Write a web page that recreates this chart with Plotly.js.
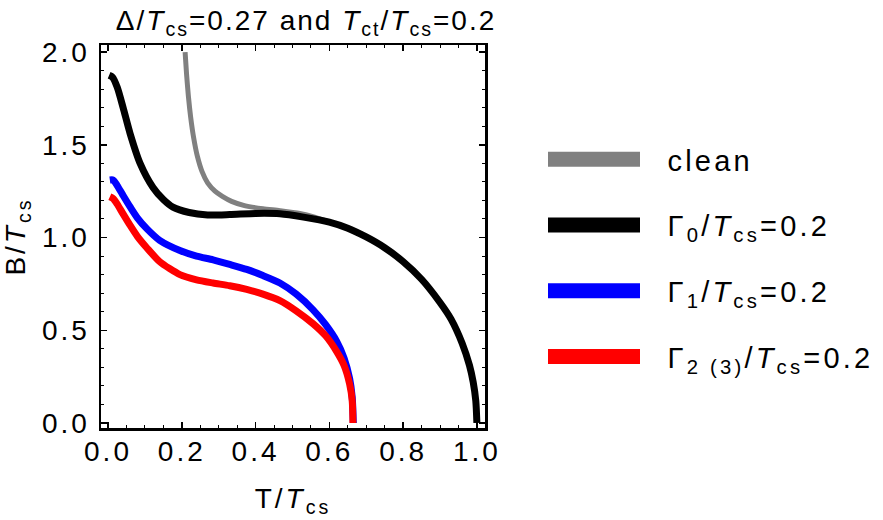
<!DOCTYPE html>
<html>
<head>
<meta charset="utf-8">
<script src="https://cdn.plot.ly/plotly-3.0.1.min.js"></script>
<style>
  html, body { margin: 0; padding: 0; background: #fff; }
  #plot { width: 883px; height: 520px; }
  text { letter-spacing: 3px; }
  text.gtitle { letter-spacing: 2px; }
  text.legendtext { letter-spacing: 3.2px; }
</style>
</head>
<body>
<div id="plot"></div>
<script>
"use strict";

// clean
var tClean = [0.209, 0.213, 0.218, 0.224, 0.232, 0.242, 0.255, 0.27, 0.29, 0.31, 0.335, 0.37, 0.42, 0.466, 0.52,
              0.56, 0.6, 0.65, 0.7, 0.75, 0.8, 0.85, 0.9, 0.93, 0.96, 0.98, 0.99, 0.997, 1.0];
var bClean = [2.0, 1.88, 1.76, 1.65, 1.54, 1.44, 1.355, 1.295, 1.25, 1.222, 1.195, 1.172, 1.155, 1.145, 1.13,
              1.11, 1.083, 1.05, 1.003, 0.945, 0.87, 0.775, 0.65, 0.56, 0.43, 0.31, 0.22, 0.12, 0.0];

// Gamma_0
var tG0 = [0.003, 0.012, 0.025, 0.041, 0.06, 0.087, 0.122, 0.15, 0.176, 0.22, 0.27, 0.33, 0.4, 0.466, 0.53,
           0.6, 0.65, 0.7, 0.75, 0.8, 0.85, 0.9, 0.93, 0.96, 0.98, 0.99, 0.997, 1.0];
var bG0 = [1.875, 1.865, 1.81, 1.70, 1.56, 1.40, 1.27, 1.205, 1.164, 1.135, 1.122, 1.124, 1.13, 1.128, 1.11,
           1.083, 1.05, 1.003, 0.945, 0.87, 0.775, 0.65, 0.56, 0.43, 0.31, 0.22, 0.12, 0.0];

// Gamma_1
var tG1 = [0.005, 0.014, 0.025, 0.04, 0.06, 0.08, 0.105, 0.14, 0.195, 0.24, 0.285, 0.33, 0.376, 0.42, 0.466,
           0.51, 0.556, 0.59, 0.62, 0.64, 0.655, 0.662, 0.665];
var bG1 = [1.31, 1.31, 1.28, 1.23, 1.165, 1.105, 1.048, 0.985, 0.93, 0.90, 0.88, 0.855, 0.828, 0.795, 0.755,
           0.695, 0.61, 0.53, 0.44, 0.35, 0.24, 0.14, 0.0];

// Gamma_2(3)
var tG2 = [0.005, 0.014, 0.025, 0.04, 0.06, 0.08, 0.105, 0.14, 0.195, 0.24, 0.285, 0.33, 0.376, 0.42, 0.466,
           0.51, 0.556, 0.59, 0.62, 0.64, 0.655, 0.662, 0.664];
var bG2 = [1.22, 1.21, 1.18, 1.13, 1.065, 1.005, 0.945, 0.87, 0.80, 0.772, 0.755, 0.74, 0.72, 0.695, 0.66,
           0.605, 0.535, 0.47, 0.385, 0.31, 0.21, 0.12, 0.0];

var names = ["clean",
             "Γ<sub>0</sub>/<i>T</i><sub>cs</sub>=0.2",
             "Γ<sub>1</sub>/<i>T</i><sub>cs</sub>=0.2",
             "Γ<sub>2 (3)</sub>/<i>T</i><sub>cs</sub>=0.2"];
var colors = ["#808080", "#000000", "#0000ff", "#ff0000"];
var widths = [5, 7, 7, 7];

var xs = [tClean, tG0, tG1, tG2];
var ys = [bClean, bG0, bG1, bG2];

var data = [];
for (var i = 0; i < 4; i++) {
  data.push({
    type: "scatter", mode: "lines",
    x: xs[i], y: ys[i],
    line: {color: colors[i], width: widths[i], shape: "spline", smoothing: 0.7},
    showlegend: false, hoverinfo: "skip"
  });
}
// legend entries (swatches only)
for (var j = 0; j < 4; j++) {
  data.push({
    type: "scatter", mode: "lines",
    x: [null], y: [null],
    name: "\u00a0\u00a0" + names[j], legendgroup: "g" + j,
    line: {color: colors[j], width: 10}
  });
}

var fnt = {family: "Liberation Sans, Arial, sans-serif", size: 28, color: "#000"};

var axisCommon = {
  showline: true, linewidth: 2.5, linecolor: "#000", mirror: "ticks",
  ticks: "inside", ticklen: 6, tickwidth: 1.5, tickcolor: "#000",
  showgrid: false, zeroline: false, tickfont: fnt
};

var layout = {
  width: 883, height: 520,
  margin: {l: 101, r: 398, t: 45, b: 92},
  paper_bgcolor: "#fff", plot_bgcolor: "#fff",
  font: fnt,
  title: {
    text: "Δ/<i>T</i><sub>cs</sub>=0.27 and <i>T</i><sub>ct</sub>/<i>T</i><sub>cs</sub>=0.2",
    font: fnt, x: 0.534, xref: "paper", xanchor: "center",
    y: 1 - 20 / 520, yref: "container", yanchor: "middle"
  },
  xaxis: Object.assign({}, axisCommon, {
    range: [-0.019, 1.022], tickvals: [0, 0.2, 0.4, 0.6, 0.8, 1.0], tickformat: ".1f",
    ticklabelstandoff: -3,
    minor: {ticks: "inside", ticklen: 3, tickwidth: 1, tickcolor: "#000", dtick: 0.05, tick0: 0},
    title: {text: "T/<i>T</i><sub>cs</sub>", font: fnt, standoff: 23}
  }),
  yaxis: Object.assign({}, axisCommon, {
    range: [-0.027, 2.038], tickvals: [0, 0.5, 1.0, 1.5, 2.0], tickformat: ".1f",
    ticklabelstandoff: 3,
    minor: {ticks: "inside", ticklen: 3, tickwidth: 1, tickcolor: "#000", dtick: 0.1, tick0: 0},
    title: {text: "B/<i>T</i><sub>cs</sub>", font: fnt, standoff: 11}
  }),
  showlegend: true,
  legend: {
    xref: "container", yref: "container",
    x: 543 / 883, y: 1 - 134 / 520, xanchor: "left", yanchor: "top",
    font: Object.assign({}, fnt, {size: 29}), itemwidth: 92, traceorder: "grouped", tracegroupgap: 25,
    bgcolor: "rgba(0,0,0,0)"
  }
};

Plotly.newPlot("plot", data, layout, {staticPlot: true, displayModeBar: false}).then(function (gd) {
  // thicker legend swatches, as in the reference
  gd.querySelectorAll(".legendlines path").forEach(function (p) {
    p.style.strokeWidth = "15px";
  });
});
</script>
</body>
</html>
